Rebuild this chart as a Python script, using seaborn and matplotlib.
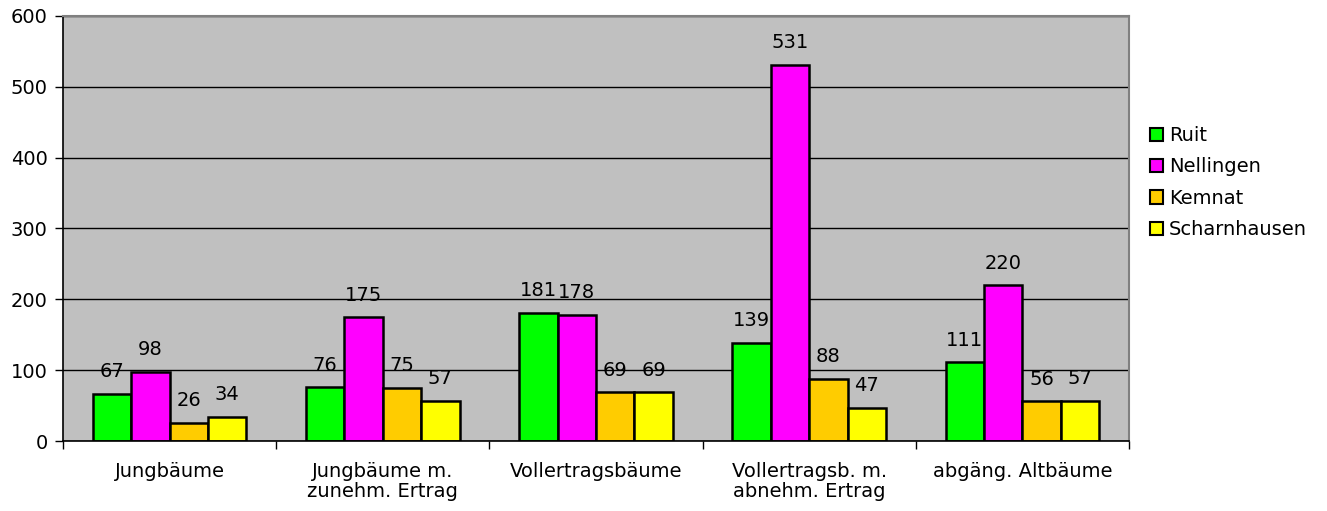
import matplotlib
matplotlib.use("Agg")
import matplotlib.pyplot as plt
import seaborn as sns
import pandas as pd
from matplotlib.patches import Patch

categories = ["Jungbäume", "Jungbäume m.\nzunehm. Ertrag", "Vollertragsbäume",
              "Vollertragsb. m.\nabnehm. Ertrag", "abgäng. Altbäume"]
sites = ["Ruit", "Nellingen", "Kemnat", "Scharnhausen"]
ruit = [67, 76, 181, 139, 111]
nellingen = [98, 175, 178, 531, 220]
kemnat = [26, 75, 69, 88, 56]
scharnhausen = [34, 57, 69, 47, 57]
colors = ["#00FF00", "#FF00FF", "#FFCC00", "#FFFF00"]
yticks = [0, 100, 200, 300, 400, 500, 600]

series = [ruit, nellingen, kemnat, scharnhausen]
rows = []
for s, vals in zip(sites, series):
    for c, v in zip(categories, vals):
        rows.append({"cat": c, "site": s, "value": v})
df = pd.DataFrame(rows)

sns.set_style("white")
plt.rcParams["font.family"] = ["DejaVu Sans"]
plt.rcParams["text.color"] = "black"
plt.rcParams["xtick.color"] = "black"
plt.rcParams["ytick.color"] = "black"
FS = 14

fig = plt.figure(figsize=(13.27, 5.11), dpi=100)
ax = fig.add_axes([63/1327, 1-441/511, (1129-63)/1327, (441-16)/511])
ax.set_facecolor("#C0C0C0")

sns.barplot(data=df, x="cat", y="value", hue="site", order=categories,
            hue_order=sites, palette=colors, edgecolor="black", linewidth=1.8,
            width=0.72, gap=0, ax=ax, legend=False, errorbar=None, saturation=1)

for cont in ax.containers:
    ax.bar_label(cont, padding=9, fontsize=FS, color="black")

ax.set_ylim(0, 600)
ax.set_xlim(-0.5, len(categories) - 0.5)
ax.set_yticks(yticks)
ax.set_yticklabels([str(t) for t in yticks], fontsize=FS, color="black")
ax.yaxis.grid(True, color="black", linewidth=1)
ax.set_axisbelow(True)
ax.tick_params(axis="y", direction="out", length=6, width=1, color="black", pad=5, left=True)

ax.set_xticks([i - 0.5 for i in range(len(categories) + 1)])
ax.set_xticklabels([])
ax.set_xticks(range(len(categories)), minor=True)
ax.set_xticklabels(categories, minor=True, fontsize=FS, linespacing=1.1, color="black")
ax.tick_params(axis="x", which="major", direction="out", length=6, width=1, color="black", bottom=True)
ax.tick_params(axis="x", which="minor", length=0, pad=15)

ax.set_xlabel("")
ax.set_ylabel("")
for side in ["left", "bottom"]:
    ax.spines[side].set_color("black")
    ax.spines[side].set_linewidth(1.2)
for side in ["top", "right"]:
    ax.spines[side].set_color("#808080")
    ax.spines[side].set_linewidth(1.5)
    ax.spines[side].set_visible(True)

handles = [Patch(facecolor=c, edgecolor="black", linewidth=1.5) for c in colors]
fig.legend(handles, sites, loc="upper left", bbox_to_anchor=(1150/1327, 1-126/511),
           bbox_transform=fig.transFigure, frameon=False, fontsize=FS,
           handlelength=0.68, handleheight=0.68, handletextpad=0.3,
           labelspacing=0.64, borderpad=0, borderaxespad=0)

fig.savefig("out.png", dpi=100)
